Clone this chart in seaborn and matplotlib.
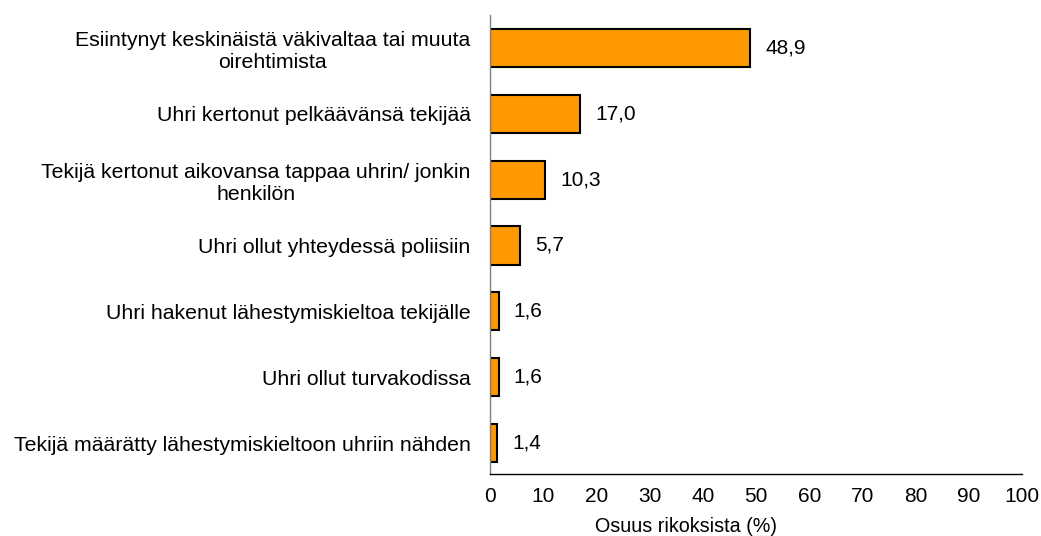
import matplotlib
matplotlib.use("Agg")
import matplotlib.pyplot as plt
import seaborn as sns
import pandas as pd

categories = [
    "Esiintynyt keskinäistä väkivaltaa tai muuta\noirehtimista",
    "Uhri kertonut pelkäävänsä tekijää",
    "Tekijä kertonut aikovansa tappaa uhrin/ jonkin\nhenkilön",
    "Uhri ollut yhteydessä poliisiin",
    "Uhri hakenut lähestymiskieltoa tekijälle",
    "Uhri ollut turvakodissa",
    "Tekijä määrätty lähestymiskieltoon uhriin nähden",
]
values = [48.9, 17.0, 10.3, 5.7, 1.6, 1.6, 1.4]
xticks = list(range(0, 101, 10))

df = pd.DataFrame({"cat": categories, "val": values})

sns.set_style("white")
plt.rcParams["font.family"] = ["Liberation Sans", "DejaVu Sans"]
plt.rcParams["text.color"] = "black"
plt.rcParams["xtick.color"] = "black"
plt.rcParams["ytick.color"] = "black"
plt.rcParams["axes.labelcolor"] = "black"

fs = 15.3

fig = plt.figure(figsize=(10.41, 5.36), dpi=100)
ax = fig.add_axes([490 / 1041, 1 - 474 / 536, (1022 - 490) / 1041, (474 - 15) / 536])

sns.barplot(data=df, x="val", y="cat", color="#FF9900", saturation=1,
            edgecolor="black", linewidth=1.5, width=0.58, ax=ax)

ax.set_xlim(0, 100)
ax.set_ylim(6.47, -0.5)
ax.set_xticks(xticks)
ax.set_xticklabels([str(t) for t in xticks], fontsize=15)
ax.tick_params(axis="x", direction="inout", length=11, width=1, color="black", pad=4)
ax.tick_params(axis="y", length=0, pad=14)
for lab in ax.get_yticklabels():
    lab.set_fontsize(fs)
    lab.set_multialignment("center")
ax.set_xlabel("Osuus rikoksista (%)", fontsize=14.2)
ax.xaxis.set_label_coords(0.368, -0.094)
ax.set_ylabel("")

for s in ["top", "right"]:
    ax.spines[s].set_visible(False)
ax.spines["bottom"].set_color("black")
ax.spines["bottom"].set_linewidth(1)
ax.spines["left"].set_color("#808080")
ax.spines["left"].set_linewidth(1)

for i, v in enumerate(values):
    ax.annotate(f"{v:.1f}".replace(".", ","), (v, i), xytext=(11, 0),
                textcoords="offset points", va="center", ha="left", fontsize=15)

fig.savefig("out.png", dpi=100)
